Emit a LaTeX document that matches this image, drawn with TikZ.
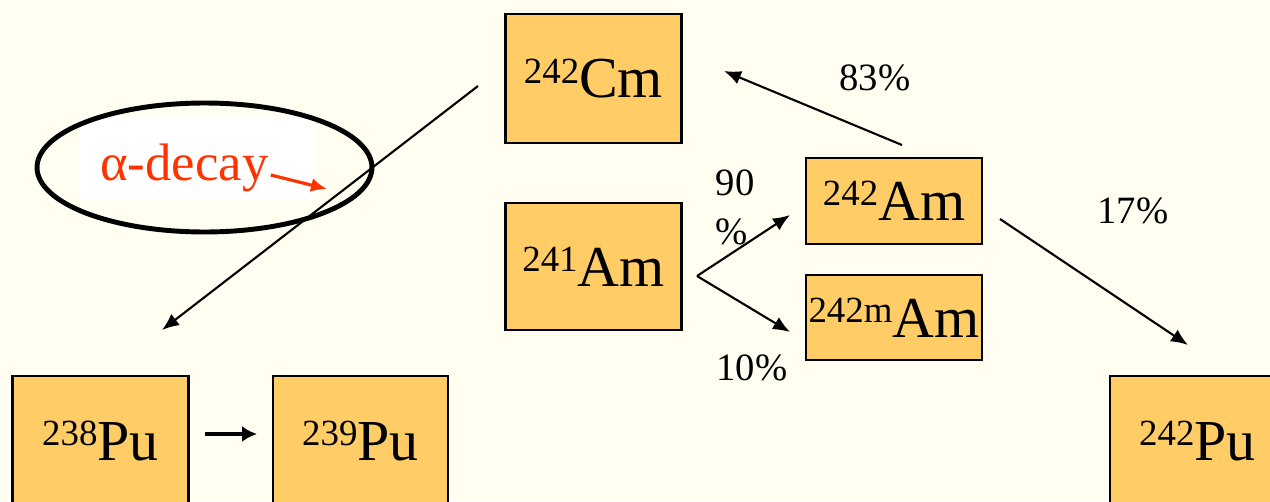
\documentclass[tikz,border=0pt]{standalone}
\usepackage{fontspec}
\setmainfont{Liberation Serif}
\usetikzlibrary{arrows.meta, positioning, shapes.geometric}
\definecolor{slidecream}{RGB}{255, 254, 240}
\definecolor{nucorange}{RGB}{255, 204, 102}
\definecolor{decayred}{RGB}{255, 51, 0}
\newcommand{\nuc}[2]{\raisebox{8.3pt}{\fontsize{21}{21}\selectfont #1}#2}
\tikzset{
  nuclide/.style={
    draw=black,
    line width=1.2pt,
    fill=nucorange,
    minimum width=3.52cm,
    inner sep=0pt,
    font=\fontsize{33}{36}\selectfont
  },
  ratio/.style={
    inner sep=0pt,
    align=left,
    font=\fontsize{22}{28}\selectfont
  },
  decayarrow/.style={
    -{Latex[length=3.4mm, width=2.8mm]},
    line width=1.2pt,
    draw=black
  }
}

\begin{document}
\begin{tikzpicture}[x=0.02cm, y=-0.02cm]
  \fill[slidecream] (0,0) rectangle (1270,501);
  \useasboundingbox (0,0) rectangle (1270,501);

  % nuclides
  \node[nuclide, minimum height=2.58cm] (cm242) at (593.5,78.5) {\nuc{242}{Cm}};
  \node[nuclide, minimum height=2.54cm] (am241) at (593.5,266.5) {\nuc{241}{Am}};
  \node[nuclide, minimum height=1.72cm] (am242) at (894,201) {\nuc{242}{Am}};
  \node[nuclide, minimum height=1.70cm] (am242m) at (894,317.5) {\nuc{242m}{Am}};
  \node[nuclide, minimum height=2.6cm] (pu238) at (100.5,441) {\nuc{238}{Pu}};
  \node[nuclide, minimum height=2.6cm, minimum width=3.5cm] (pu239) at (360.5,441) {\nuc{239}{Pu}};
  \node[nuclide, minimum height=2.6cm, minimum width=3.5cm] (pu242) at (1197.5,441) {\nuc{242}{Pu}};

  % branching ratios
  \node[ratio] (r83) at (875,78) {83\%};
  \node[ratio] (r17) at (1133,211) {17\%};
  \node[ratio] (r90) at (735,207) {90\\\%};
  \node[ratio] (r10) at (752,368) {10\%};

  % alpha decay mark
  \fill[white] (80,117) rectangle (315,200);
  \draw[line width=2.8pt] (204.5,167.5) ellipse [x radius=3.35cm, y radius=1.29cm];
  \node[anchor=base west, inner sep=0pt, text=decayred, font=\fontsize{30}{32}\selectfont] (decay) at (100,180) {α-decay};
  \coordinate (decaytip) at (327,189);
  \draw[-{Latex[length=3.2mm, width=2.8mm]}, line width=1.8pt, draw=decayred] (decay.base east) ++(2,-5) -- (decaytip);

  % connectors
  \coordinate (cmout) at (478,86);
  \coordinate (pu238in) at (162,330);
  \coordinate (am242up) at (902,145);
  \coordinate (cmin) at (724,71);
  \coordinate (am242down) at (1000,219);
  \coordinate (pu242in) at (1188,345);
  \coordinate (fork) at (697,276);
  \coordinate (am242in) at (790,215);
  \coordinate (am242min) at (790,332);
  \coordinate (pu238out) at (205,434);
  \coordinate (pu239in) at (257,434);

  \draw[decayarrow] (cmout) -- (pu238in);
  \draw[decayarrow] (am242up) -- (cmin);
  \draw[decayarrow] (am242down) -- (pu242in);
  \draw[decayarrow] (fork) -- (am242in);
  \draw[decayarrow] (fork) -- (am242min);
  \draw[-{Latex[length=3mm, width=3.2mm]}, line width=1.8pt] (pu238out) -- (pu239in);
\end{tikzpicture}
\end{document}
